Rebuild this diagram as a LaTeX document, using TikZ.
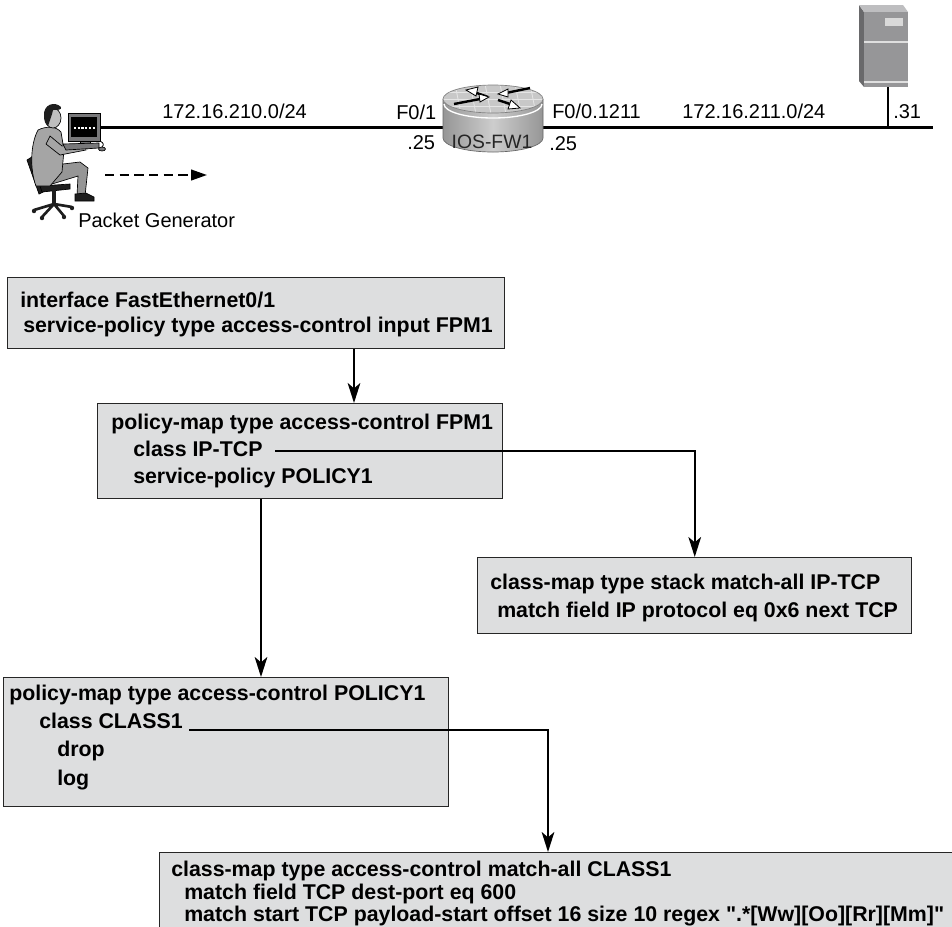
\documentclass[tikz,border=0pt]{standalone}
\usepackage{fontspec}
\setmainfont{Liberation Sans}[Ligatures=TeXOff]
\usetikzlibrary{arrows.meta,calc}

\definecolor{boxfill}{RGB}{221,222,223}
\definecolor{inkdark}{RGB}{30,30,30}
\definecolor{coat}{RGB}{165,165,165}
\definecolor{pants}{RGB}{150,150,150}
\definecolor{skin}{RGB}{190,190,190}
\definecolor{devgray}{RGB}{120,120,122}
\definecolor{rtop}{RGB}{200,200,200}
\definecolor{rside}{RGB}{150,150,150}
\definecolor{rsidelight}{RGB}{205,205,205}
\definecolor{srvfront}{RGB}{150,150,152}
\definecolor{srvside}{RGB}{105,105,107}
\definecolor{srvtop}{RGB}{190,190,192}

\begin{document}
\begin{tikzpicture}[x=0.75pt,y=-0.75pt,
  cfgbox/.style={draw=black!85, line width=1.1pt, fill=boxfill, inner sep=0pt, anchor=north west},
  cfgtext/.style={anchor=base west, inner sep=0pt, font=\fontsize{16}{19}\selectfont\bfseries},
  netlabel/.style={anchor=base west, inner sep=0pt, font=\fontsize{15}{18}\selectfont},
  flow/.style={line width=1.5pt, -{Stealth[length=15pt,width=9.5pt,inset=4pt]}},
  wire/.style={line width=2pt},
  outline/.style={draw=black, line width=0.5pt},
  routearrow/.style={line width=1.8pt},
  arrowhead/.style={fill=white, draw=black, line width=0.6pt}]

\clip (0,0) rectangle (952,926);
\fill[white] (0,0) rectangle (952,926);

% ---------- network links ----------
\coordinate (pcport) at (100,127.5);
\coordinate (fwleft) at (443,127.5);
\coordinate (fwright) at (543,127.5);
\coordinate (lanend) at (933,127.5);
\coordinate (srvbase) at (888,87);
\draw[wire] (pcport) -- (fwleft);
\draw[wire] (fwright) -- (lanend);
\draw[wire] (srvbase) -- (srvbase |- lanend);

% ---------- operator at the workstation ----------
% chair
\filldraw[fill=inkdark, outline] (27,160) -- (35,155) -- (47,190) -- (39,194) -- cycle;
\filldraw[fill=inkdark, outline] (40,186) -- (70,184) -- (70,189) -- (42,192) -- cycle;
\draw[line width=2.5pt, inkdark] (54,190) -- (54,204);
\draw[line width=2pt, inkdark] (54,204) -- (34,210) (54,204) -- (42,217) (54,204) -- (64,216) (54,204) -- (72,207);
\fill[inkdark] (34,211) circle (2.2) (42,218) circle (2.2) (64,217) circle (2.2) (72,208) circle (2.2);
% legs and shoe
\filldraw[fill=pants, outline] (46,166) -- (80,162) -- (88,168) -- (85,196) -- (77,196) -- (78,176) -- (52,184) -- cycle;
\filldraw[fill=inkdark, outline] (75,194) -- (86,193) -- (94,197) -- (94,201) -- (75,201) -- cycle;
% coat
\filldraw[fill=coat, outline] (38,130) .. controls (46,126) and (56,126) .. (61,132)
  -- (64,150) -- (62,172) -- (50,186) -- (36,186) .. controls (30,170) and (30,145) .. cycle;
% arm
\filldraw[fill=coat, outline] (50,136) -- (62,146) -- (84,143) -- (86,150) -- (60,155) -- (46,144) -- cycle;
\fill[skin] (84,143) -- (89,144) -- (89,149) -- (86,150) -- cycle;
% head
\filldraw[fill=skin, outline] (53,118) ellipse[x radius=8, y radius=10];
\fill[inkdark] (44,116) .. controls (43,104) and (55,101) .. (61,107)
  .. controls (62,110) and (58,110) .. (53,110) .. controls (52,115) and (50,120) .. (48,126)
  .. controls (45,124) and (44,120) .. cycle;
% monitor, keyboard, mouse
\filldraw[fill=devgray, outline] (68,113) rectangle (100,141);
\fill[black] (71,117) rectangle (97,137);
\draw[white, line width=1.2pt, dash pattern=on 1.6pt off 1.2pt] (74,128) -- (95,128);
\filldraw[fill=devgray, outline] (80,141) rectangle (90,144);
\filldraw[fill=devgray, outline] (63,144) -- (99,143) -- (99,148) -- (66,150) -- cycle;
\draw[line width=0.6pt] (100,141) .. controls (104,143) and (104,145) .. (102,147);
\filldraw[fill=devgray, outline] (102,149) ellipse[x radius=3.5, y radius=2];

% traffic direction
\coordinate (pktstart) at (105,175);
\coordinate (pktend) at (207,175);
\draw[line width=1.6pt, dash pattern=on 7pt off 4pt,
  -{Triangle[length=12pt,width=8pt]}] (pktstart) -- (pktend);

% ---------- router ----------
\shade[left color=rside, right color=rside, middle color=rsidelight]
  (443,99) -- (443,138) arc[start angle=180, end angle=0, x radius=50, y radius=14] -- (543,99) -- cycle;
\draw[line width=0.5pt, black!60] (443,99) -- (443,138) arc[start angle=180, end angle=0, x radius=50, y radius=14] -- (543,99);
\draw[white, line width=1pt] (444,104) arc[start angle=180, end angle=0, x radius=49, y radius=14];
\fill[rtop] (493,99) ellipse[x radius=50, y radius=14];
\begin{scope}
  \clip (493,99) ellipse[x radius=50, y radius=14];
  \foreach \gx in {455,470,485,500,515,530} \draw[white!80!gray, line width=0.6pt] (\gx,84) -- (\gx+6,114);
  \foreach \gy in {92,99,106} \draw[white!80!gray, line width=0.6pt] (440,\gy) -- (546,\gy);
\end{scope}
\draw[line width=0.5pt, black!50] (493,99) ellipse[x radius=50, y radius=14];
% four routing arrows on the top face
\draw[routearrow] (488,97) -- (474,92);
\filldraw[arrowhead] (466,90) -- (478,87) -- (476,96) -- cycle;
\draw[routearrow] (480,99) -- (454,104);
\filldraw[arrowhead] (489,97) -- (479,94) -- (480,102) -- cycle;
\draw[routearrow] (506,93) -- (530,88);
\filldraw[arrowhead] (498,94) -- (508,89) -- (508,97) -- cycle;
\draw[routearrow] (498,100) -- (510,104);
\filldraw[arrowhead] (520,108) -- (508,109) -- (511,100) -- cycle;
\node[anchor=base, inner sep=0pt, font=\fontsize{14.5}{17}\selectfont, text=black!85] (fwname) at (492,148) {IOS-FW1};

% ---------- server ----------
\fill[srvside] (859,5) -- (864,12) -- (864,87) -- (859,81) -- cycle;
\fill[srvtop] (859,5) -- (903,5) -- (908,12) -- (864,12) -- cycle;
\fill[srvfront] (864,12) rectangle (908,87);
\draw[white!75!gray, line width=0.8pt] (864,42) -- (908,42) (864,82) -- (908,82);
\fill[white!70!gray] (885,18) rectangle (903,26);

% ---------- addressing labels ----------
\node[netlabel] (net1) at (162,118) {172.16.210.0/24};
\node[netlabel] (ifin) at (396,119) {F0/1};
\node[netlabel] (ipin) at (407,149) {.25};
\node[netlabel] (ifout) at (552,118) {F0/0.1211};
\node[netlabel] (ipout) at (549,150) {.25};
\node[netlabel] (net2) at (682,118) {172.16.211.0/24};
\node[netlabel] (ipsrv) at (893,118) {.31};
\node[netlabel] (pktgen) at (78,227) {Packet Generator};

% ---------- configuration blocks ----------
\node[cfgbox, minimum width=497*0.75pt, minimum height=71*0.75pt] (ifbox) at (7,277) {};
\node[cfgtext] (if1) at (20,307) {interface FastEthernet0/1};
\node[cfgtext] (if2) at (23,332) {service-policy type access-control input FPM1};

\node[cfgbox, minimum width=405*0.75pt, minimum height=95*0.75pt] (fpmbox) at (97,403) {};
\node[cfgtext] (fpm1) at (111,429) {policy-map type access-control FPM1};
\node[cfgtext] (fpm2) at (133,456) {class IP-TCP};
\node[cfgtext] (fpm3) at (133,483) {service-policy POLICY1};

\node[cfgbox, minimum width=434*0.75pt, minimum height=76*0.75pt] (stackbox) at (477,557) {};
\node[cfgtext] (stk1) at (490,589) {class-map type stack match-all IP-TCP};
\node[cfgtext] (stk2) at (497,617) {match field IP protocol eq 0x6 next TCP};

\node[cfgbox, minimum width=445*0.75pt, minimum height=129*0.75pt] (polbox) at (3,677) {};
\node[cfgtext] (pol1) at (9,700) {policy-map type access-control POLICY1};
\node[cfgtext] (pol2) at (39,728) {class CLASS1};
\node[cfgtext] (pol3) at (57,756) {drop};
\node[cfgtext] (pol4) at (57,785) {log};

\node[cfgbox, minimum width=830*0.75pt, minimum height=120*0.75pt] (classbox) at (159,852) {};
\node[cfgtext] (cls1) at (171,876) {class-map type access-control match-all CLASS1};
\node[cfgtext] (cls2) at (184,899) {match field TCP dest-port eq 600};
\node[cfgtext] (cls3) at (184,921) {match start TCP payload-start offset 16 size 10 regex ".*[Ww][Oo][Rr][Mm]"};

% ---------- references between blocks ----------
\coordinate (drop1) at (354,0);
\coordinate (drop2) at (261,0);
\coordinate (tap1) at (275,451);
\coordinate (tap2) at (189,730);
\coordinate (drop3) at (548,0);
\draw[flow] (ifbox.south -| drop1) -- (fpmbox.north -| drop1);
\draw[flow] (fpmbox.south -| drop2) -- (polbox.north -| drop2);
\draw[flow] (tap1) -| (stackbox.north);
\draw[flow] (tap2) -| (classbox.north -| drop3);

\end{tikzpicture}
\end{document}
